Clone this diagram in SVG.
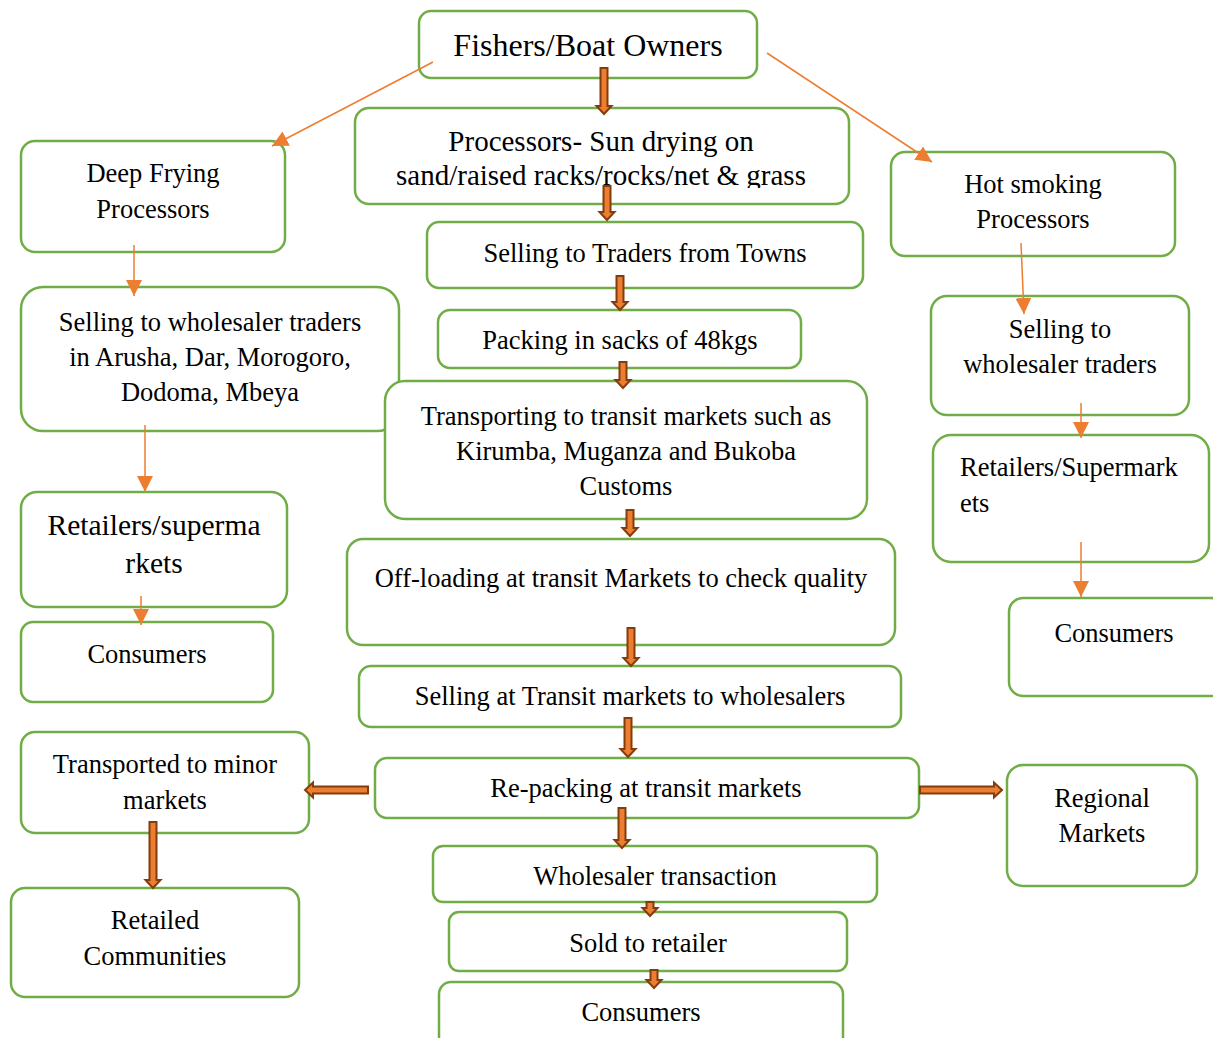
<svg xmlns="http://www.w3.org/2000/svg" width="1213" height="1038" viewBox="0 0 1213 1038">
<style>
.b{fill:#fff;stroke:#70AD47;stroke-width:2.5}
text{font-family:"Liberation Serif","Times New Roman",serif;font-size:26.5px;fill:#000;text-anchor:middle}
.bl{fill:#ED7D31;stroke:#843C0C;stroke-width:2}
.th{stroke:#ED7D31;stroke-width:1.5;fill:none}
</style>
<defs>
<marker id="ah2" viewBox="0 0 10 10" refX="10" refY="5" markerWidth="16" markerHeight="16" markerUnits="userSpaceOnUse" orient="auto"><path d="M0,0 L10,5 L0,10 Z" fill="#ED7D31"/></marker>
<clipPath id="c1"><rect x="355" y="108" width="494" height="80"/></clipPath>
</defs>
<g id="n-fishers"><rect class="b" x="419" y="11" width="338" height="67" rx="12"/><text x="588" y="56" style="font-size:32px">Fishers/Boat Owners</text></g>
<g id="n-sundry"><rect class="b" x="355" y="108" width="494" height="96" rx="14"/><g clip-path="url(#c1)"><text x="601" y="151" style="font-size:29px">Processors- Sun drying on</text><text x="601" y="185" style="font-size:29px">sand/raised racks/rocks/net &amp; grass</text></g></g>
<g id="n-deepfry"><rect class="b" x="21" y="141" width="264" height="111" rx="14"/><text x="153" y="182">Deep Frying</text><text x="153" y="218">Processors</text></g>
<g id="n-hotsmoke"><rect class="b" x="891" y="152" width="284" height="104" rx="14"/><text x="1033" y="193">Hot smoking</text><text x="1033" y="228">Processors</text></g>
<g id="n-traders"><rect class="b" x="427" y="222" width="436" height="66" rx="12"/><text x="645" y="262">Selling to Traders from Towns</text></g>
<g id="n-packing"><rect class="b" x="438" y="310" width="363" height="58" rx="12"/><text x="620" y="349">Packing in sacks of 48kgs</text></g>
<g id="n-wholesale-l"><rect class="b" x="21" y="287" width="378" height="144" rx="22"/><text x="210" y="331">Selling to wholesaler traders</text><text x="210" y="366">in Arusha, Dar, Morogoro,</text><text x="210" y="401">Dodoma, Mbeya</text></g>
<g id="n-transport"><rect class="b" x="385" y="381" width="482" height="138" rx="20"/><text x="626" y="425">Transporting to transit markets such as</text><text x="626" y="460">Kirumba, Muganza and Bukoba</text><text x="626" y="495">Customs</text></g>
<g id="n-wholesale-r"><rect class="b" x="931" y="296" width="258" height="119" rx="16"/><text x="1060" y="338">Selling to</text><text x="1060" y="373">wholesaler traders</text></g>
<g id="n-retail-r"><rect class="b" x="933" y="435" width="276" height="127" rx="18"/><text x="960" y="476" style="text-anchor:start">Retailers/Supermark</text><text x="960" y="512" style="text-anchor:start">ets</text></g>
<g id="n-retail-l"><rect class="b" x="21" y="492" width="266" height="115" rx="16"/><text x="154" y="535" style="font-size:29.5px">Retailers/superma</text><text x="154" y="573" style="font-size:29.5px">rkets</text></g>
<g id="n-offload"><rect class="b" x="347" y="539" width="548" height="106" rx="16"/><text x="621" y="587">Off-loading at transit Markets to check quality</text></g>
<g id="n-cons-l"><rect class="b" x="21" y="622" width="252" height="80" rx="12"/><text x="147" y="663">Consumers</text></g>
<g id="n-cons-r"><rect class="b" x="1009" y="598" width="216" height="98" rx="14"/><text x="1114" y="642">Consumers</text></g>
<g id="n-transit-sell"><rect class="b" x="359" y="666" width="542" height="61" rx="12"/><text x="630" y="705">Selling at Transit markets to wholesalers</text></g>
<g id="n-minor"><rect class="b" x="21" y="732" width="288" height="101" rx="14"/><text x="165" y="773">Transported to minor</text><text x="165" y="809">markets</text></g>
<g id="n-repack"><rect class="b" x="375" y="758" width="544" height="60" rx="12"/><text x="646" y="797">Re-packing at transit markets</text></g>
<g id="n-regional"><rect class="b" x="1007" y="765" width="190" height="121" rx="16"/><text x="1102" y="807">Regional</text><text x="1102" y="842">Markets</text></g>
<g id="n-retailed"><rect class="b" x="11" y="888" width="288" height="109" rx="14"/><text x="155" y="929">Retailed</text><text x="155" y="965">Communities</text></g>
<g id="n-wholesaler-tx"><rect class="b" x="433" y="846" width="444" height="56" rx="10"/><text x="655" y="885">Wholesaler transaction</text></g>
<g id="n-sold"><rect class="b" x="449" y="912" width="398" height="59" rx="10"/><text x="648" y="952">Sold to retailer</text></g>
<g id="n-cons-b"><rect class="b" x="439" y="982" width="404" height="70" rx="12"/><text x="641" y="1021">Consumers</text></g>
<g id="connectors">
<line class="th" x1="433" y1="62" x2="272" y2="146" marker-end="url(#ah2)"/>
<line class="th" x1="767" y1="53" x2="932" y2="162" marker-end="url(#ah2)"/>
<line class="th" x1="134" y1="245" x2="134" y2="296" marker-end="url(#ah2)"/>
<line class="th" x1="145" y1="425" x2="145" y2="492" marker-end="url(#ah2)"/>
<line class="th" x1="141" y1="596" x2="141" y2="625" marker-end="url(#ah2)"/>
<line class="th" x1="1021" y1="243" x2="1024" y2="314" marker-end="url(#ah2)"/>
<line class="th" x1="1081" y1="403" x2="1081" y2="438" marker-end="url(#ah2)"/>
<line class="th" x1="1081" y1="542" x2="1081" y2="597" marker-end="url(#ah2)"/>
<path class="bl" d="M600.5,68 L607.5,68 L607.5,106 L611.5,106 L604,114 L596.5,106 L600.5,106 Z"/>
<path class="bl" d="M603.5,186 L610.5,186 L610.5,212 L614.5,212 L607,220 L599.5,212 L603.5,212 Z"/>
<path class="bl" d="M616.5,276 L623.5,276 L623.5,302 L627.5,302 L620,310 L612.5,302 L616.5,302 Z"/>
<path class="bl" d="M619.5,362 L626.5,362 L626.5,380 L630.5,380 L623,388 L615.5,380 L619.5,380 Z"/>
<path class="bl" d="M626.5,510 L633.5,510 L633.5,528 L637.5,528 L630,536 L622.5,528 L626.5,528 Z"/>
<path class="bl" d="M627.5,628 L634.5,628 L634.5,658 L638.5,658 L631,666 L623.5,658 L627.5,658 Z"/>
<path class="bl" d="M624.5,718 L631.5,718 L631.5,749 L635.5,749 L628,757 L620.5,749 L624.5,749 Z"/>
<path class="bl" d="M618.5,808 L625.5,808 L625.5,840 L629.5,840 L622,848 L614.5,840 L618.5,840 Z"/>
<path class="bl" d="M646.5,902 L653.5,902 L653.5,908 L657.5,908 L650,916 L642.5,908 L646.5,908 Z"/>
<path class="bl" d="M650.5,970 L657.5,970 L657.5,980 L661.5,980 L654,988 L646.5,980 L650.5,980 Z"/>
<path class="bl" d="M149.5,822 L156.5,822 L156.5,880 L160.5,880 L153,888 L145.5,880 L149.5,880 Z"/>
<path class="bl" d="M368,786.5 L368,793.5 L313,793.5 L313,797.5 L305,790 L313,782.5 L313,786.5 Z"/>
<path class="bl" d="M920,786.5 L994,786.5 L994,782.5 L1002,790 L994,797.5 L994,793.5 L920,793.5 Z"/>
</g>
</svg>
